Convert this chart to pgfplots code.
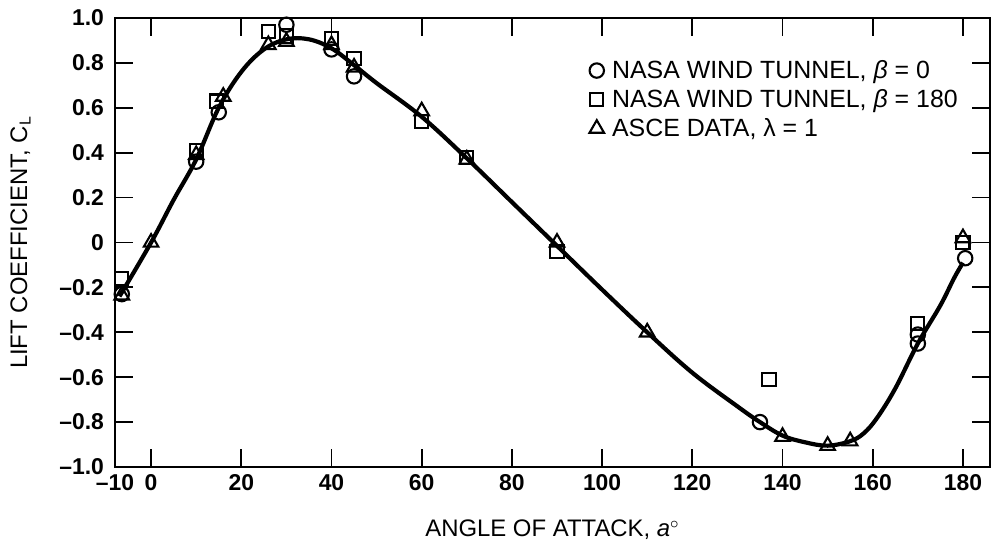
\documentclass[border=0pt]{standalone}
\usepackage{fontspec}
\setmainfont{Liberation Sans}
\usepackage{pgfplots}
\pgfplotsset{compat=1.18}
\begin{document}
\begin{tikzpicture}
\begin{axis}[
  name=ax,
  scale only axis,
  width=437.5bp, height=224.5bp,
  xmin=-8, xmax=186, ymin=-1, ymax=1,
  xtick={-8,0,20,40,60,80,100,120,140,160,180},
  xticklabels={–10,0,20,40,60,80,100,120,140,160,180},
  ytick={-1,-0.8,-0.6,-0.4,-0.2,0,0.2,0.4,0.6,0.8,1.0},
  yticklabels={–1.0,–0.8,–0.6,–0.4,–0.2,0,0.2,0.4,0.6,0.8,1.0},
  tick pos=both,
  major tick length=9bp,
  tick style={line width=0.9bp, black},
  axis line style={line width=1.3bp},
  ticklabel style={font=\fontsize{11.5}{13}\selectfont\bfseries},
  yticklabel style={xshift=-2bp},
  /pgf/number format/assume math mode=true,
  xlabel={ANGLE OF ATTACK, \textit{a}$^\circ$},
  ylabel={LIFT COEFFICIENT, C$_\mathrm{L}$},
  label style={font=\fontsize{12}{14}\selectfont},
  xlabel style={at={(axis description cs:0.5,-0.14)}, anchor=center},
  ylabel style={at={(axis description cs:-0.108,0.5)}, anchor=center},
  legend style={draw=none, fill=none, at={(rel axis cs:0.535,0.925)}, anchor=north west,
    font=\fontsize{12.5}{14}\selectfont, row sep=0bp, cells={anchor=west}},
  legend cell align=left,
]
\addplot[black, line width=2.1bp, smooth, tension=0.6, forget plot] coordinates {
(-7,-0.24) (0,0.0) (5,0.19) (10,0.37) (15,0.6) (20,0.76) (25,0.86) (30,0.905) (35,0.905) (40,0.865) (45,0.79) (50,0.71) (60,0.56) (70,0.375) (80,0.18) (90,-0.015) (100,-0.21) (110,-0.40) (120,-0.58) (130,-0.73) (135,-0.80) (140,-0.86) (145,-0.89) (150,-0.905) (155,-0.885) (158,-0.85) (161,-0.78) (165,-0.65) (170,-0.45) (175,-0.28) (178,-0.16) (180,-0.09)
};
\addplot[only marks, mark=o, mark size=3.6bp, black, line width=1.05bp, mark options={fill=white}] coordinates {
(-6.5,-0.23) (10,0.36) (15,0.58) (30,0.97) (40,0.86) (45,0.74) (135,-0.80) (170,-0.41) (170,-0.45) (180.5,-0.07)
};
\addlegendentry{\hspace{2bp}NASA WIND TUNNEL, \textit{β} = 0}
\addplot[only marks, mark=square, mark size=3.3bp, black, line width=1.05bp, mark options={fill=white}] coordinates {
(-6.5,-0.16) (10,0.41) (14.5,0.63) (26,0.94) (30,0.92) (40,0.91) (45,0.82) (60,0.54) (70,0.38) (90,-0.04) (137,-0.61) (170,-0.36) (180,0.0)
};
\addlegendentry{\hspace{2bp}NASA WIND TUNNEL, \textit{β} = 180}
\addplot[only marks, mark=triangle, mark size=4.2bp, black, line width=1.05bp, mark options={fill=white}] coordinates {
(-6.5,-0.235) (0,0.0) (10,0.39) (16,0.65) (26,0.88) (30,0.895) (40,0.88) (45,0.78) (60,0.585) (70,0.37) (90,0.0) (110,-0.40) (140,-0.865) (150,-0.905) (155,-0.885) (180,0.02)
};
\addlegendentry{\hspace{2bp}ASCE DATA, λ = 1}
\end{axis}
\pgfresetboundingbox
\path[use as bounding box] ([xshift=-57.5bp,yshift=-39.5bp]ax.south west) rectangle ([xshift=6.5bp,yshift=9bp]ax.north east);
\end{tikzpicture}
\end{document}
